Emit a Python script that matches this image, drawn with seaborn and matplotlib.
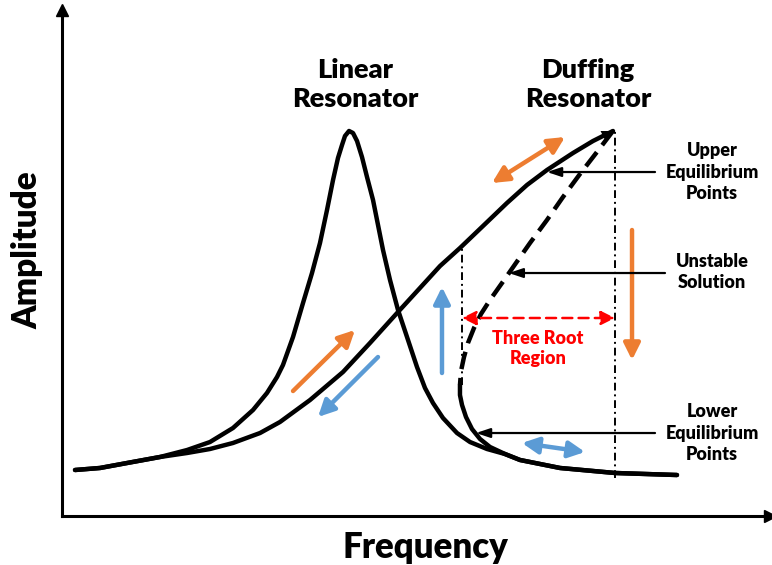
import matplotlib
matplotlib.use("Agg")
import matplotlib.pyplot as plt
import numpy as np
import pandas as pd
import seaborn as sns

# ---- response curves (frequency, amplitude), arbitrary units ----
linear_freq = [1.84, 5.37, 9.18, 13.84, 17.66, 20.90, 24.15, 26.98, 28.95, 30.37, 31.21,
               32.63, 34.04, 35.31, 36.44, 37.43, 38.28, 38.98, 39.55, 39.97, 40.54, 41.10,
               41.67, 42.37, 43.08, 43.93, 45.34, 46.33, 47.46, 48.73, 50.14, 51.27, 52.40,
               53.81, 55.79, 57.63, 60.03, 62.57, 64.69, 70.34, 78.11, 86.86]
linear_amp = [9.09, 9.49, 10.47, 11.66, 13.04, 14.62, 17.39, 20.95, 24.31, 27.47, 29.84,
              35.38, 42.09, 48.02, 53.95, 60.47, 66.40, 70.75, 73.32, 75.10, 76.09, 75.69,
              74.11, 70.95, 67.00, 62.45, 52.57, 46.64, 40.71, 35.38, 29.45, 25.30, 22.33,
              19.37, 16.40, 14.62, 13.24, 12.25, 11.07, 9.49, 8.50, 8.10]

# Duffing resonator: upper stable branch
upper_freq = [1.84, 5.37, 9.18, 13.84, 17.66, 20.90, 24.15, 27.97, 30.79, 35.03, 39.69,
              43.50, 47.46, 50.56, 53.39, 56.21, 59.46, 62.85, 65.68, 68.50, 72.18, 75.00,
              77.82]
upper_amp = [9.09, 9.49, 10.47, 11.66, 12.45, 13.24, 14.43, 16.40, 18.58, 22.92, 28.46,
             34.19, 40.32, 45.06, 49.40, 52.96, 57.31, 61.86, 65.42, 68.38, 71.74, 74.11,
             76.09]

# Duffing resonator: unstable middle branch
middle_freq = [77.82, 75.56, 73.16, 70.76, 68.50, 66.10, 64.12, 62.15, 60.45, 59.18, 58.19,
               57.34, 56.78, 56.36, 56.21]
middle_amp = [76.09, 71.94, 67.59, 63.04, 58.50, 53.95, 50.00, 46.05, 42.69, 39.92, 37.15,
              34.19, 31.42, 28.66, 25.89]

# Duffing resonator: lower stable branch
lower_freq = [56.21, 56.21, 56.50, 57.06, 57.91, 59.04, 60.45, 62.57, 64.69, 70.34, 78.11,
              86.86]
lower_amp = [25.89, 23.91, 21.94, 19.57, 17.19, 15.22, 13.64, 12.25, 11.07, 9.49, 8.50,
             8.10]

# jump frequencies bounding the three-root region
jump_up_freq = 56.50
jump_down_freq = 78.11

ORANGE = "#ED7D31"
BLUE = "#5B9BD5"
RED = "#FF0000"

sns.set_theme(style="white")
plt.rcParams["font.family"] = ["Lato", "DejaVu Sans"]
WEIGHT = "heavy"

fig = plt.figure(figsize=(7.72, 5.65), dpi=100)
ax = fig.add_axes([62 / 772, 1 - 516 / 565, 708 / 772, 506 / 565])

curves = pd.concat([
    pd.DataFrame({"freq": linear_freq, "amp": linear_amp, "branch": "linear"}),
    pd.DataFrame({"freq": upper_freq, "amp": upper_amp, "branch": "upper"}),
    pd.DataFrame({"freq": middle_freq, "amp": middle_amp, "branch": "middle"}),
    pd.DataFrame({"freq": lower_freq, "amp": lower_amp, "branch": "lower"}),
])

for name, grp in curves.groupby("branch", sort=False):
    ls = (0, (4, 2)) if name == "middle" else "-"
    sns.lineplot(data=grp, x="freq", y="amp", sort=False, estimator=None,
                 color="black", lw=3.2, linestyle=ls, ax=ax,
                 solid_capstyle="round", solid_joinstyle="round",
                 dash_capstyle="butt", dash_joinstyle="round")

# arrowhead at the top of the upper branch
ax.annotate("", xy=(upper_freq[-1], upper_amp[-1]), xytext=(upper_freq[-2], upper_amp[-2]),
            arrowprops=dict(arrowstyle="-|>,head_length=0.5,head_width=0.25",
                            color="black", lw=0, mutation_scale=16,
                            shrinkA=0, shrinkB=0))

# dash-dot guides at the jump frequencies
dashdot = (0, (4, 2, 1, 2))
ax.vlines(jump_up_freq, 25.9, 52.96, colors="black", lw=1.4, linestyles=[dashdot])
ax.vlines(jump_down_freq, 7.5, 76.09, colors="black", lw=1.4, linestyles=[dashdot])

# three root region marker
ax.annotate("", xy=(jump_down_freq, 39.13), xytext=(jump_up_freq, 39.13),
            arrowprops=dict(arrowstyle="<|-|>,head_length=0.6,head_width=0.3",
                            color=RED, lw=1.8, ls=(0, (4, 2.5)), mutation_scale=14,
                            shrinkA=0, shrinkB=0))
ax.text(67.23, 33.1, "Three Root\nRegion", color=RED, fontsize=13, fontweight=WEIGHT,
        ha="center", va="center", linespacing=1.25)

# sweep direction arrows
def sweep(tail, head, color, style="-|>"):
    ax.annotate("", xy=head, xytext=tail,
                arrowprops=dict(arrowstyle=f"{style},head_length=0.7,head_width=0.35",
                                color=color, lw=3.2, mutation_scale=14,
                                shrinkA=0, shrinkB=0))

sweep((60.73, 65.81), (71.05, 74.90), ORANGE, "<|-|>")
sweep((32.63, 24.70), (41.38, 36.76), ORANGE)
sweep((80.51, 56.52), (80.51, 30.83), ORANGE)
sweep((44.63, 31.42), (36.16, 19.57), BLUE)
sweep((53.67, 28.26), (53.67, 45.26), BLUE)
sweep((64.97, 14.43), (73.87, 12.65), BLUE, "<|-|>")

# pointers to equilibrium points
def pointer(tip, start):
    ax.annotate("", xy=tip, xytext=start,
                arrowprops=dict(arrowstyle="-|>,head_length=0.6,head_width=0.2",
                                color="black", lw=1.6, mutation_scale=14,
                                shrinkA=0, shrinkB=0))

pointer((68.50, 67.98), (83.76, 67.98))
pointer((63.10, 48.02), (85.17, 48.02))
pointer((58.47, 16.40), (83.76, 16.40))

label_kw = dict(fontsize=13, fontweight=WEIGHT, ha="center", va="center",
                linespacing=1.3, color="black")
ax.text(91.81, 67.98, "Upper\nEquilibrium\nPoints", **label_kw)
ax.text(91.81, 48.2, "Unstable\nSolution", **label_kw)
ax.text(91.81, 16.40, "Lower\nEquilibrium\nPoints", **label_kw)

title_kw = dict(fontsize=19.5, fontweight=WEIGHT, ha="center", va="center",
                linespacing=1.25, color="black")
ax.text(41.38, 85.2, "Linear\nResonator", **title_kw)
ax.text(74.29, 85.2, "Duffing\nResonator", **title_kw)

# axes with arrowheads
ax.set_xlim(0, 100)
ax.set_ylim(0, 100)
ax.set_xticks([])
ax.set_yticks([])
for side in ("top", "right"):
    ax.spines[side].set_visible(False)
for side in ("left", "bottom"):
    ax.spines[side].set_color("black")
    ax.spines[side].set_linewidth(2.2)
ax.plot(1, 0, marker=">", ms=8, color="black", transform=ax.transAxes, clip_on=False)
ax.plot(0, 1, marker="^", ms=8, color="black", transform=ax.transAxes, clip_on=False)

ax.set_xlabel("Frequency", fontsize=25, fontweight=WEIGHT, color="black")
ax.set_ylabel("Amplitude", fontsize=24, fontweight=WEIGHT, color="black")
ax.xaxis.set_label_coords(0.513, -0.030)
ax.yaxis.set_label_coords(-0.026, 0.526)

fig.savefig("out.png", dpi=100, facecolor="white")
